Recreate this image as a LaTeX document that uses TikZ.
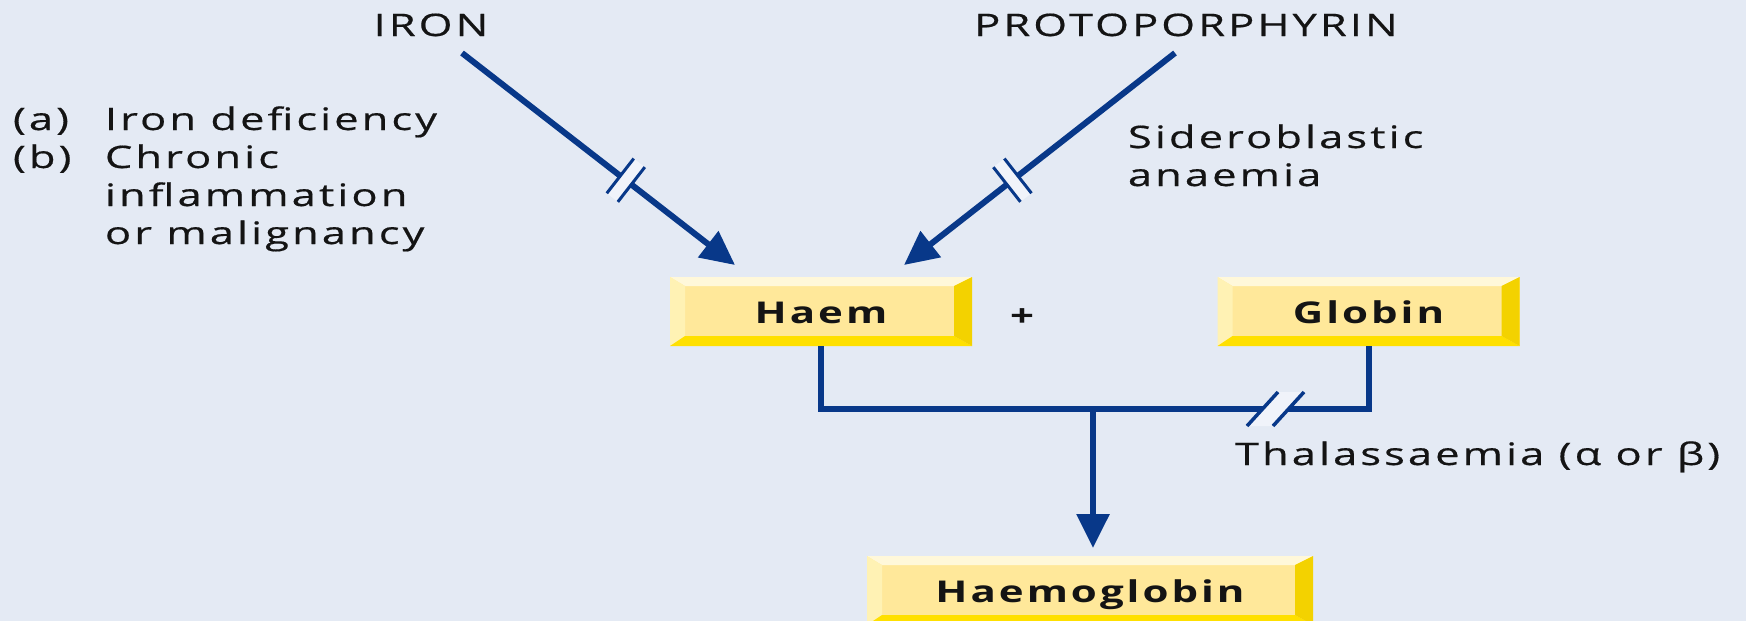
\documentclass[tikz,border=0pt]{standalone}
\usepackage{fontspec}
\setmainfont{Open Sans}[FakeStretch=1.4,LetterSpace=10,UprightFeatures={FakeBold=0.5}]
\usetikzlibrary{arrows.meta}
\definecolor{bg}{HTML}{E4EAF4}
\definecolor{navy}{HTML}{083889}
\definecolor{face}{HTML}{FFE89A}
\definecolor{btop}{HTML}{FFF8DA}
\definecolor{bleft}{HTML}{FFF2B4}
\definecolor{bbot}{HTML}{FFE000}
\definecolor{bright}{HTML}{F3D200}
\definecolor{brkfill}{HTML}{F0F3FA}
\tikzset{
  lbl/.style={inner sep=0pt, outer sep=0pt, text=black!92, font=\fontsize{31}{38}\selectfont},
  conn/.style={draw=navy, line width=6pt},
  arr/.style={conn, -{Triangle[length=34pt,width=32pt]}},
  bevelbox/.style={minimum width=302pt, minimum height=69pt, inner sep=0pt, outer sep=0pt,
    fill=face, text=black!92, text height=27pt, text depth=3pt,
    font=\fontsize{30}{36}\selectfont\bfseries,
    path picture={
      \coordinate (bNW) at (path picture bounding box.north west);
      \coordinate (bNE) at (path picture bounding box.north east);
      \coordinate (bSW) at (path picture bounding box.south west);
      \coordinate (bSE) at (path picture bounding box.south east);
      \coordinate (iNW) at ([xshift=15pt,yshift=-9pt]bNW);
      \coordinate (iNE) at ([xshift=-18pt,yshift=-9pt]bNE);
      \coordinate (iSW) at ([xshift=15pt,yshift=10pt]bSW);
      \coordinate (iSE) at ([xshift=-18pt,yshift=10pt]bSE);
      \fill[btop] (bNW) -- (bNE) -- (iNE) -- (iNW) -- cycle;
      \fill[bleft] (bNW) -- (iNW) -- (iSW) -- (bSW) -- cycle;
      \fill[bbot] (bSW) -- (iSW) -- (iSE) -- (bSE) -- cycle;
      \fill[bright] (bNE) -- (bSE) -- (iSE) -- (iNE) -- cycle;
    }},
  brk/.pic={
    \fill[brkfill] (-7,-22) rectangle (7,22);
    \draw[navy, line width=3pt] (-7,-22) -- (-7,22) (7,-22) -- (7,22);
  }
}
\begin{document}
\begin{tikzpicture}[x=1pt,y=-1pt]
\useasboundingbox (0,0) rectangle (1746,621);
\fill[bg] (0,0) rectangle (1746,621);

% texts
\node[lbl, anchor=base] (iron) at (431,36) {IRON};
\node[lbl, anchor=base] (proto) at (1186,36) {PROTOPORPHYRIN};
\node[lbl, anchor=base west] (causes) at (13,130)
  {\begin{tabular}[t]{@{}p{92pt}@{}l@{}}(a) & Iron deficiency\\ (b) & Chronic\\ & inflammation\\ & or malignancy\end{tabular}};
\node[lbl, anchor=base west] (sidero) at (1128,148)
  {\begin{tabular}[t]{@{}l@{}}Sideroblastic\\ anaemia\end{tabular}};
\node[lbl, anchor=base west] (thal) at (1235,465) {Thalassaemia (α or β)};
\node[lbl, anchor=base, font=\fontsize{30}{36}\selectfont\bfseries] (plus) at (1022,326) {+};

% boxes
\node[bevelbox] (haem) at (821,311.5) {Haem};
\node[bevelbox] (globin) at (1368.5,311.5) {Globin};
\node[bevelbox, minimum width=446pt] (hb) at (1090,590.5) {Haemoglobin};

% arrows from iron / protoporphyrin
\coordinate (ironstart) at (462,53);
\coordinate (ironhead) at (735,265);
\coordinate (protostart) at (1175,53);
\coordinate (protohead) at (904,265);
\draw[arr] (ironstart) -- (ironhead);
\draw[arr] (protostart) -- (protohead);
\path (ironstart) -- (ironhead) pic[pos=0.6, sloped] {brk};
\path (protostart) -- (protohead) pic[pos=0.6, sloped] {brk};

% haem + globin -> haemoglobin
\coordinate (join) at (1093,409);
\draw[conn] (haem.south) -- (haem.south |- join) -| (globin.south);
\draw[arr] (join) -- ([yshift=8pt]join |- hb.north);

% thalassaemia break
\fill[brkfill] (1247,426) -- (1278,392) -- (1304,392) -- (1273,426) -- cycle;
\draw[navy, line width=3.5pt] (1247,426) -- (1278,392) (1273,426) -- (1304,392);
\end{tikzpicture}
\end{document}
